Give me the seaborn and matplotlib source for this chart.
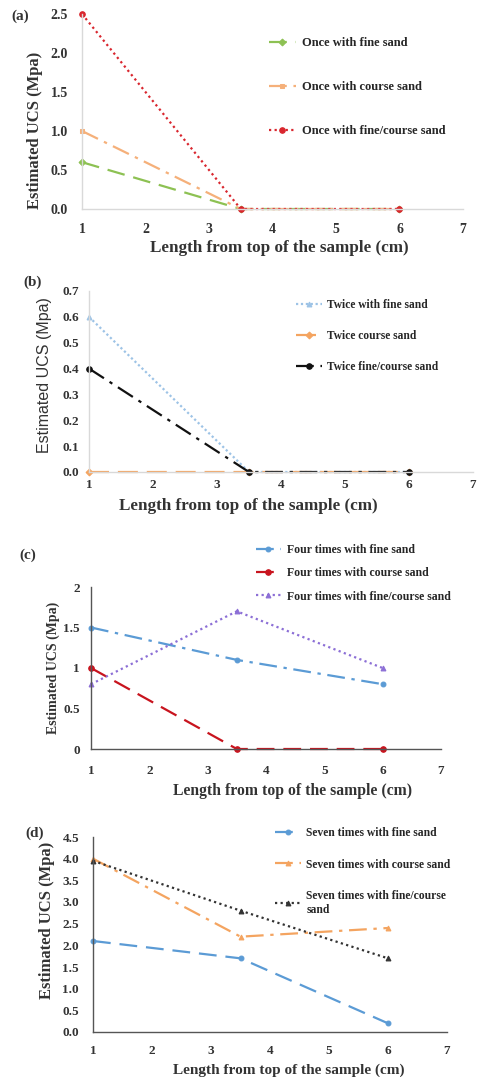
import matplotlib
matplotlib.use("Agg")
import matplotlib.pyplot as plt
import seaborn as sns
import pandas as pd

sns.set_theme(style="white")
plt.rcParams['font.family'] = ['Liberation Serif', 'DejaVu Serif']

# ---------------- data ----------------
x_pos = [1, 3.5, 6]

a_labels = ["Once with fine sand", "Once with course sand", "Once with fine/course sand"]
a_fine = [0.6, 0.0, 0.0]
a_coarse = [1.0, 0.0, 0.0]
a_mix = [2.5, 0.0, 0.0]

b_labels = ["Twice with fine sand", "Twice course sand", "Twice fine/course sand"]
b_fine = [0.6, 0.0, 0.0]
b_coarse = [0.0, 0.0, 0.0]
b_mix = [0.4, 0.0, 0.0]

c_labels = ["Four times with fine sand", "Four times with course sand", "Four times with fine/course sand"]
c_fine = [1.5, 1.1, 0.8]
c_coarse = [1.0, 0.0, 0.0]
c_mix = [0.8, 1.7, 1.0]

d_labels = ["Seven times with fine sand", "Seven times with course sand", "Seven times with fine/course\nsand"]
d_fine = [2.1, 1.7, 0.2]
d_coarse = [4.0, 2.2, 2.4]
d_mix = [3.95, 2.8, 1.7]

x_ticks = [1, 2, 3, 4, 5, 6, 7]
xlabel = "Length from top of the sample (cm)"
ylabel = "Estimated UCS (Mpa)"

fig = plt.figure(figsize=(4.82, 10.77), dpi=100)

W, H = 482.0, 1077.0
def box(l, r, t, b):
    return [l / W, 1 - b / H, (r - l) / W, (b - t) / H]

panels = [
    dict(tag="(a)", rect=box(82, 463, 14, 209), ylim=(0, 2.5), yticks=[0, 0.5, 1.0, 1.5, 2.0, 2.5],
         yfmt="{:.1f}", series=[a_fine, a_coarse, a_mix], labels=a_labels,
         colors=["#8DC153", "#F5B07A", "#D9262E"],
         styles=[(0, (8, 4)), (0, (8, 3, 1.5, 3)), (0, (1, 1.5))],
         markers=["D", "s", "o"], msize=[3.5, 3.5, 4],
         axcol="#D9D9D9", ticks=False, ypad=10, xpad=10, tfs=10,
         leg=(0.49, 0.88), lspace=2.55, lfs=9,
         tagpos=(20, 16), ylab_font='serif', ylfs=12, ylab=(-0.123, 0.405),
         xlfs=12.3, xlab=(0.517, -0.2)),
    dict(tag="(b)", rect=box(89, 473, 291, 472), ylim=(0, 0.7), yticks=[0, 0.1, 0.2, 0.3, 0.4, 0.5, 0.6, 0.7],
         yfmt="{:.1f}", series=[b_fine, b_coarse, b_mix], labels=b_labels,
         colors=["#9DC3E6", "#F4A460", "#111111"],
         styles=[(0, (1, 1.2)), (0, (9, 4)), (0, (8, 3, 1.5, 3))],
         markers=["^", "D", "o"], msize=[3.5, 3.5, 4],
         axcol="#D9D9D9", ticks=False, ypad=7, xpad=5, tfs=9.5,
         leg=(0.54, 0.955), lspace=1.65, lfs=8.3,
         tagpos=(33, 282), ylab_font='sans', ylfs=11.5, ylab=(-0.115, 0.536),
         xlfs=12.3, xlab=(0.414, -0.19)),
    dict(tag="(c)", rect=box(91, 441, 587, 749), ylim=(0, 2), yticks=[0, 0.5, 1, 1.5, 2],
         yfmt="{:g}", series=[c_fine, c_coarse, c_mix], labels=c_labels,
         colors=["#5B9BD5", "#C8141E", "#8C6FD6"],
         styles=[(0, (8, 3, 1.5, 3)), (0, (8, 4)), (0, (1, 1.5))],
         markers=["o", "o", "^"], msize=[3.5, 4, 3.5],
         axcol="#555555", ticks=True, ypad=5, xpad=9, tfs=9.5,
         leg=(0.47, 1.265), lspace=0.95, lfs=8.5,
         tagpos=(28, 555), ylab_font='serif', ylfs=10, ylab=(-0.109, 0.5),
         xlfs=11.3, xlab=(0.575, -0.26)),
    dict(tag="(d)", rect=box(93, 447, 837, 1032), ylim=(0, 4.5), yticks=[0, 0.5, 1.0, 1.5, 2.0, 2.5, 3.0, 3.5, 4.0, 4.5],
         yfmt="{:.1f}", series=[d_fine, d_coarse, d_mix], labels=d_labels,
         colors=["#5B9BD5", "#F4A460", "#333333"],
         styles=[(0, (8, 4)), (0, (8, 3, 1.5, 3)), (0, (1, 1.5))],
         markers=["o", "^", "^"], msize=[3.5, 3.5, 3.5],
         axcol="#555555", ticks=True, ypad=7, xpad=7, tfs=9.5,
         leg=(0.514, 1.05), lspace=1.65, lfs=8.4,
         tagpos=(35, 833), ylab_font='serif', ylfs=12, ylab=(-0.13, 0.574),
         xlfs=11, xlab=(0.552, -0.196)),
]

for p in panels:
    ax = fig.add_axes(p["rect"])
    for vals, lab, col, ls, mk, ms in zip(p["series"], p["labels"], p["colors"], p["styles"], p["markers"], p["msize"]):
        df = pd.DataFrame({"x": x_pos, "y": vals})
        sns.lineplot(data=df, x="x", y="y", ax=ax, color=col, linestyle=ls, linewidth=1.6,
                     marker=mk, markersize=ms, markeredgecolor=col, markerfacecolor=col,
                     label=lab, clip_on=False)
    ax.set_xlim(1, 7)
    ax.set_ylim(*p["ylim"])
    ax.set_xticks(x_ticks)
    ax.set_xticklabels([str(t) for t in x_ticks], fontsize=p["tfs"], fontweight='bold', color='#333333')
    ax.set_yticks(p["yticks"])
    ax.set_yticklabels([p["yfmt"].format(t) for t in p["yticks"]], fontsize=p["tfs"], fontweight='bold', color='#333333')
    for s in ["top", "right"]:
        ax.spines[s].set_visible(False)
    for s in ["left", "bottom"]:
        ax.spines[s].set_visible(True)
        ax.spines[s].set_color(p["axcol"])
        ax.spines[s].set_linewidth(1.0)
    if p["ticks"]:
        ax.tick_params(axis='y', which='major', length=3, width=1, color=p["axcol"], direction='out', pad=p["ypad"])
        ax.tick_params(axis='x', which='major', length=5, width=1, color=p["axcol"], direction='inout', pad=p["xpad"])
    else:
        ax.tick_params(axis='y', length=0, pad=p["ypad"])
        ax.tick_params(axis='x', length=0, pad=p["xpad"])
    ax.set_xlabel(xlabel, fontsize=p["xlfs"], fontweight='bold', color='#333333')
    ax.xaxis.set_label_coords(*p["xlab"])
    ax.xaxis.label.set_verticalalignment('center')
    if p["ylab_font"] == 'sans':
        ax.set_ylabel(ylabel, fontsize=p["ylfs"], color='#333333', family=['Liberation Sans', 'DejaVu Sans'])
    else:
        ax.set_ylabel(ylabel, fontsize=p["ylfs"], fontweight='bold', color='#333333')
    ax.yaxis.set_label_coords(*p["ylab"])
    ax.yaxis.label.set_verticalalignment('center')
    ax.grid(False)
    ax.legend(loc='upper left', bbox_to_anchor=p["leg"], frameon=False,
              labelspacing=p["lspace"], handlelength=2.2, handletextpad=0.5,
              borderpad=0, borderaxespad=0, prop={'weight': 'bold', 'size': p["lfs"]})
    fig.text(p["tagpos"][0] / W, 1 - p["tagpos"][1] / H, p["tag"], fontsize=11, fontweight='bold',
             color='#333333', ha='center', va='center')

fig.savefig("out.png", dpi=100)
